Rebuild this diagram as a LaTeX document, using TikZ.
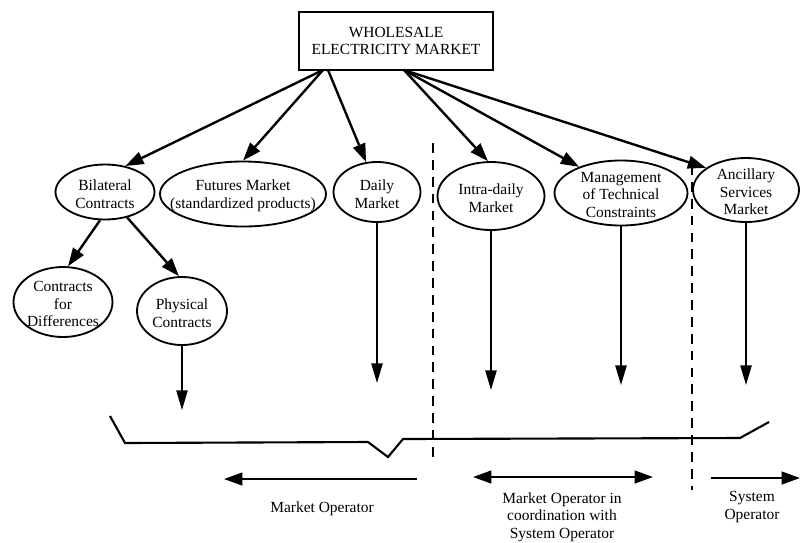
\documentclass[tikz,border=0pt]{standalone}
\usepackage{fontspec}
\setmainfont{Liberation Serif}
\usetikzlibrary{shapes.geometric, arrows.meta, calc}

\begin{document}
\begin{tikzpicture}[x=0.025cm, y=-0.025cm]
  \newcommand\pxu{0.025cm}
  \newcommand\mktfont{\fontsize{11}{12.5}\selectfont}

  \tikzset{oval/.style 2 args={draw, ellipse, line width=1.3pt, inner sep=0pt, minimum width=#1*\pxu, minimum height=#2*\pxu}}
  \tikzset{ovaltext/.style={align=center, font=\mktfont, inner sep=0pt}}
  \tikzset{optext/.style={align=center, font=\mktfont, inner sep=0pt}}
  \tikzset{bigptr/.style={-{Triangle[length=13pt, width=9pt]}, line width=1.7pt}}
  \tikzset{downptr/.style={-{Triangle[length=14pt, width=8pt]}, line width=1.2pt}}
  \tikzset{opptr/.style={-{Triangle[length=13pt, width=9pt]}, line width=1.5pt}}
  \tikzset{opptrs/.style={{Triangle[length=13pt, width=9pt]}-{Triangle[length=13pt, width=9pt]}, line width=1.5pt}}
  \tikzset{split/.style={dash pattern=on 7pt off 5pt, line width=1.6pt}}

  \useasboundingbox (0,0) rectangle (800,542);

  % wholesale market
  \node[draw, line width=1.4pt, minimum width=194*\pxu, minimum height=58*\pxu, inner sep=0pt, align=center, font=\mktfont] (wem) at (396,41) {WHOLESALE\\ELECTRICITY MARKET};
  \coordinate (wem-l) at (323,70);
  \coordinate (wem-m) at (328,70);
  \coordinate (wem-r) at (404,70);

  % markets
  \foreach \name/\x/\y/\w/\h/\txt in {
      bilat/105/192/99/55/{Bilateral\\Contracts},
      futures/243/194/166/65/{Futures Market\\(standardized products)},
      daily/377/192/87/60/{Daily\\Market},
      intra/491/196/107/68/{Intra-daily\\Market},
      mgmt/621/193/133/65/{Management\\of Technical\\Constraints},
      ancil/746/190/106/64/{Ancillary\\Services\\Market},
      cfd/63/302/99/70/{Contracts\\for\\Differences},
      phys/182/311/90/68/{Physical\\Contracts}}{
    \node[oval={\w}{\h}] (\name) at (\x,\y) {};
    \node[ovaltext] (\name-t) at ($(\name)+(0,2)$) {\txt};
  }

  \foreach \dst in {bilat.52, futures.north}
    \draw[bigptr] (wem-l) -- (\dst);
  \draw[bigptr] (wem-m) -- (daily.110);
  \foreach \dst in {intra.95, mgmt.148, ancil.151}
    \draw[bigptr] (wem-r) -- (\dst);

  \draw[bigptr] (bilat.260) -- (cfd.82);
  \draw[bigptr] (bilat.311) -- (phys.95);

  % down to the market line
  \foreach \src/\yend in {phys/410, daily/383, intra/390, mgmt/385, ancil/385}{
    \coordinate (\src-end) at (\src.south |- 0,\yend);
    \draw[downptr] (\src.south) -- (\src-end);
  }

  \draw[line width=1.5pt] (110,416) -- (125,443) -- (368,442) -- (388,457) -- (403,439) -- (740,438) -- (769,422);

  \draw[split] (433,143) -- (433,462);
  \draw[split] (692,165) -- (692,490);

  % operators
  \coordinate (mo-a) at (417,479);
  \coordinate (mo-b) at (224,479);
  \coordinate (mso-a) at (473,477);
  \coordinate (mso-b) at (653,477);
  \coordinate (so-a) at (711,478);
  \coordinate (so-b) at (800,478);
  \draw[opptr] (mo-a) -- (mo-b);
  \draw[opptrs] (mso-a) -- (mso-b);
  \draw[opptr] (so-a) -- (so-b);

  \node[optext] (mo) at (322,509) {Market Operator};
  \node[optext] (mso) at (562,517) {Market Operator in\\coordination with\\System Operator};
  \node[optext] (so) at (752,507) {System\\Operator};
\end{tikzpicture}
\end{document}
